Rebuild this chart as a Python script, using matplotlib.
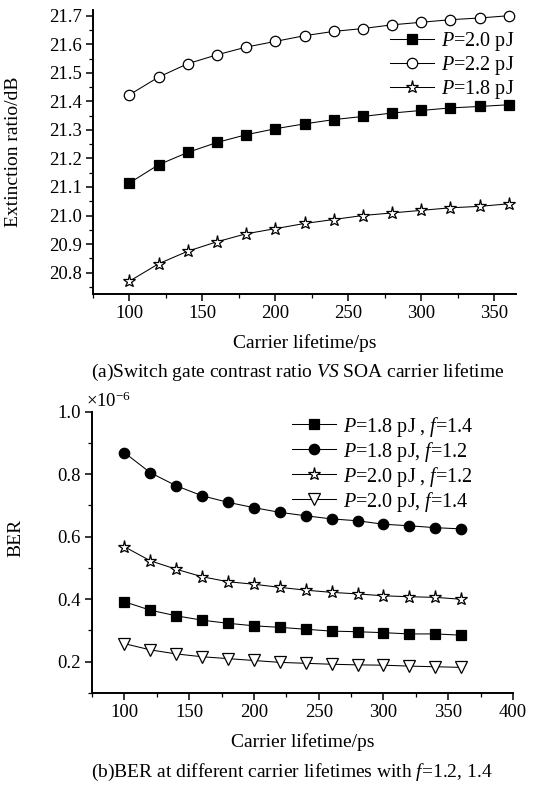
import matplotlib
matplotlib.use("Agg")
import matplotlib.pyplot as plt
from matplotlib.ticker import MultipleLocator

plt.rcParams['font.family'] = ['Liberation Serif', 'DejaVu Serif']
plt.rcParams['mathtext.fontset'] = 'custom'
plt.rcParams['mathtext.rm'] = 'Liberation Serif'
plt.rcParams['mathtext.it'] = 'Liberation Serif:italic'

# carrier lifetime (ps)
lifetime = [100, 120, 140, 160, 180, 200, 220, 240, 260, 280, 300, 320, 340, 360]

# (a) extinction ratio / dB
er_p20 = [21.114, 21.178, 21.221, 21.256, 21.283, 21.304, 21.321,
          21.336, 21.347, 21.359, 21.368, 21.377, 21.382, 21.388]
er_p22 = [21.423, 21.485, 21.532, 21.563, 21.590, 21.610, 21.630,
          21.645, 21.655, 21.668, 21.677, 21.686, 21.692, 21.700]
er_p18 = [20.770, 20.831, 20.875, 20.908, 20.936, 20.954, 20.972,
          20.986, 21.000, 21.009, 21.018, 21.027, 21.032, 21.041]

# (b) BER (x1e-6)
ber_p18_f14 = [0.392, 0.365, 0.347, 0.333, 0.323, 0.315, 0.310,
               0.304, 0.298, 0.296, 0.293, 0.289, 0.289, 0.285]
ber_p18_f12 = [0.869, 0.805, 0.763, 0.731, 0.710, 0.693, 0.678,
               0.667, 0.657, 0.651, 0.640, 0.635, 0.629, 0.625]
ber_p20_f12 = [0.568, 0.523, 0.496, 0.472, 0.456, 0.448, 0.438,
               0.429, 0.422, 0.417, 0.411, 0.408, 0.406, 0.400]
ber_p20_f14 = [0.258, 0.238, 0.225, 0.216, 0.210, 0.204, 0.198,
               0.195, 0.192, 0.190, 0.189, 0.186, 0.184, 0.182]

W, H = 540, 785
fig = plt.figure(figsize=(W / 100, H / 100), dpi=100)


def box(left, top, right, bottom):
    return [left / W, 1 - bottom / H, (right - left) / W, (bottom - top) / H]


def style_axes(ax):
    for s in ['top', 'right']:
        ax.spines[s].set_visible(False)
    for s in ['left', 'bottom']:
        ax.spines[s].set_linewidth(1.4)
    ax.tick_params(which='major', direction='out', length=5, width=1.1, labelsize=13.5, pad=3)
    ax.tick_params(which='minor', direction='out', length=3, width=0.9)


kw = dict(color='black', lw=0.75, markeredgecolor='black', markeredgewidth=0.9)

# ---- (a) ----
ax1 = fig.add_axes(box(93, 10, 516, 294))
ax1.plot(lifetime, er_p20, marker='s', ms=6.5, markerfacecolor='black', label='$P$=2.0 pJ', **kw)
ax1.plot(lifetime, er_p22, marker='o', ms=7.5, markerfacecolor='white', label='$P$=2.2 pJ', **kw)
ax1.plot(lifetime, er_p18, marker='*', ms=9.5, markerfacecolor='white', label='$P$=1.8 pJ', **kw)
ax1.set_xlim(75, 365)
ax1.set_ylim(20.725, 21.72)
ax1.xaxis.set_major_locator(MultipleLocator(50))
ax1.xaxis.set_minor_locator(MultipleLocator(25))
ax1.yaxis.set_major_locator(MultipleLocator(0.1))
ax1.yaxis.set_minor_locator(MultipleLocator(0.05))
ax1.yaxis.set_major_formatter(plt.FormatStrFormatter('%.1f'))
style_axes(ax1)
ax1.set_xlabel('Carrier lifetime/ps', fontsize=14, labelpad=9)
ax1.set_ylabel('Extinction ratio/dB', fontsize=14)
ax1.yaxis.set_label_coords(-0.168, 0.5)
ax1.legend(loc='upper left', bbox_to_anchor=(0.702, 0.93), frameon=False, fontsize=14.5,
           handlelength=2.2, handletextpad=0.35, labelspacing=0.05, borderpad=0, borderaxespad=0)
fig.text(0.552, 1 - 372 / H, '(a)Switch gate contrast ratio $VS$ SOA carrier lifetime',
         ha='center', va='center', fontsize=14)

# ---- (b) ----
ax2 = fig.add_axes(box(92, 411.7, 513, 693))
ax2.plot(lifetime, ber_p18_f14, marker='s', ms=6.5, markerfacecolor='black',
         label='$P$=1.8 pJ , $f$=1.4', **kw)
ax2.plot(lifetime, ber_p18_f12, marker='o', ms=7.5, markerfacecolor='black',
         label='$P$=1.8 pJ, $f$=1.2', **kw)
ax2.plot(lifetime, ber_p20_f12, marker='*', ms=9.5, markerfacecolor='white',
         label='$P$=2.0 pJ , $f$=1.2', **kw)
ax2.plot(lifetime, ber_p20_f14, marker='v', ms=8, markerfacecolor='white',
         label='$P$=2.0 pJ, $f$=1.4', **kw)
ax2.set_xlim(75, 400)
ax2.set_ylim(0.1, 1.0)
ax2.xaxis.set_major_locator(MultipleLocator(50))
ax2.xaxis.set_minor_locator(MultipleLocator(25))
ax2.yaxis.set_major_locator(MultipleLocator(0.2))
ax2.yaxis.set_minor_locator(MultipleLocator(0.1))
ax2.yaxis.set_major_formatter(plt.FormatStrFormatter('%.1f'))
style_axes(ax2)
ax2.set_xlabel('Carrier lifetime/ps', fontsize=14, labelpad=9)
ax2.set_ylabel('BER', fontsize=14)
ax2.yaxis.set_label_coords(-0.16, 0.55)
ax2.legend(loc='upper left', bbox_to_anchor=(0.475, 0.99), frameon=False, fontsize=14.5,
           handlelength=2.2, handletextpad=0.35, labelspacing=0.05, borderpad=0, borderaxespad=0)
fig.text(86 / W, 1 - 407 / H, r'$\times$10$^{-6}$', ha='left', va='baseline', fontsize=13.5)
fig.text(0.54, 1 - 772 / H, '(b)BER at different carrier lifetimes with $f$=1.2, 1.4',
         ha='center', va='center', fontsize=14)

fig.savefig('out.png', dpi=100)
